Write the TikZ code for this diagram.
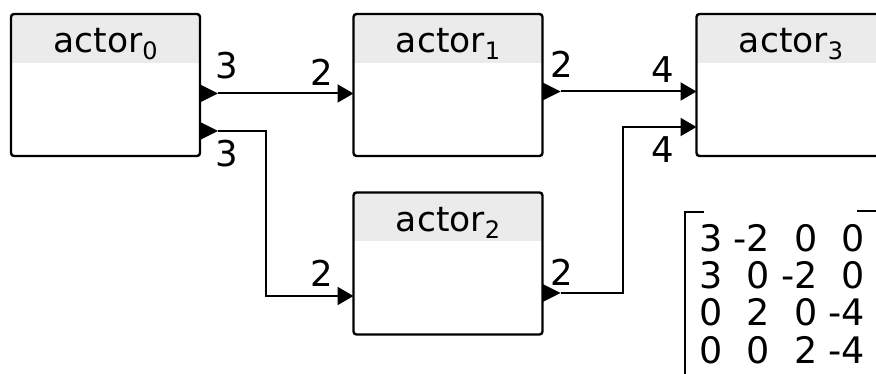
\documentclass[tikz,border=0pt]{standalone}
\usepackage{fontspec}
\setmainfont{DejaVu Sans}
\usetikzlibrary{arrows.meta}
\definecolor{hdr}{HTML}{EBEBEB}
\newcommand\actsub[1]{\raisebox{-7pt}{\fontsize{24}{24}\selectfont #1}}
\begin{document}
\begin{tikzpicture}[x=1pt,y=-1pt,
  actorbox/.style={minimum width=189pt, minimum height=142pt, inner sep=0pt, outer sep=0pt},
  boxline/.style={line width=2.4pt, rounded corners=3pt},
  titletext/.style={font=\fontsize{34.5}{40}\selectfont, inner sep=0pt, anchor=base},
  ratelabel/.style={font=\fontsize{35.5}{40}\selectfont, inner sep=0pt, anchor=base},
  entry/.style={font=\fontsize{36.5}{40}\selectfont, inner sep=0pt, anchor=base east},
  conn/.style={line width=2pt, -{Triangle[length=16pt,width=18pt]}},
  outport/.pic={\fill (0,-9) -- (18,0) -- (0,9) -- cycle;},
  ]
\useasboundingbox (0,0) rectangle (876,374);
\clip (0,0) rectangle (876,374);
\fill[white] (0,0) rectangle (876,374);

% actor boxes
\node[actorbox] (a0) at (105.5,85) {};
\node[actorbox] (a1) at (448,85) {};
\node[actorbox] (a3) at (791,85) {};
\node[actorbox] (a2) at (448,263.5) {};

\foreach \n in {a0,a1,a2,a3} {
  \begin{scope}
    \clip[rounded corners=3pt] (\n.north west) rectangle (\n.south east);
    \fill[hdr] (\n.north west) rectangle ([yshift=-49pt]\n.north east);
  \end{scope}
  \draw[boxline] (\n.north west) rectangle (\n.south east);
}

% titles
\node[titletext] (t0) at ([yshift=-39pt]a0.north) {actor\actsub{0}};
\node[titletext] (t1) at ([yshift=-39pt]a1.north) {actor\actsub{1}};
\node[titletext] (t3) at ([yshift=-39pt]a3.north) {actor\actsub{3}};
\node[titletext] (t2) at ([yshift=-39pt]a2.north) {actor\actsub{2}};

% ports
\coordinate (a0o1) at ([yshift=-8.5pt]a0.east);
\coordinate (a0o2) at ([yshift=-46pt]a0.east);
\coordinate (a1i)  at ([yshift=-8.5pt]a1.west);
\coordinate (a1o)  at ([yshift=-6.5pt]a1.east);
\coordinate (a3i1) at ([yshift=-6.5pt]a3.west);
\coordinate (a3i2) at ([yshift=-42pt]a3.west);
\coordinate (a2i)  at ([yshift=-32.5pt]a2.west);
\coordinate (a2o)  at ([yshift=-29.5pt]a2.east);

\foreach \p in {a0o1,a0o2,a1o,a2o} {
  \pic at (\p) {outport};
  \coordinate (\p t) at ([xshift=18pt]\p);
}

% connectors
\draw[conn] (a0o1t) -- (a1i);
\draw[conn] (a0o2t) -- ++(48,0) |- (a2i);
\draw[conn] (a1ot) -- (a3i1);
\draw[conn] (a2ot) -- ++(62,0) |- (a3i2);

% rate labels
\node[ratelabel] (l1) at (227,79) {3};
\node[ratelabel] (l2) at (322,86) {2};
\node[ratelabel] (l3) at (227,167) {3};
\node[ratelabel] (l4) at (562,78) {2};
\node[ratelabel] (l5) at (663,83) {4};
\node[ratelabel] (l6) at (663,163) {4};
\node[ratelabel] (l7) at (322,287) {2};
\node[ratelabel] (l8) at (562,286) {2};

% matrix
\draw[line width=2pt] (704,212) -- (685,212) -- (685,380);
\draw[line width=2pt] (857,211) -- (880,211) -- (880,380);
\foreach \row [count=\r] in {{3,-2,0,0},{3,0,-2,0},{0,2,0,-4},{0,0,2,-4}} {
  \foreach \v [count=\c] in \row {
    \node[entry] (m\r\c) at ({723+47.4*(\c-1)},{215+37*\r}) {\v};
  }
}
\end{tikzpicture}
\end{document}
